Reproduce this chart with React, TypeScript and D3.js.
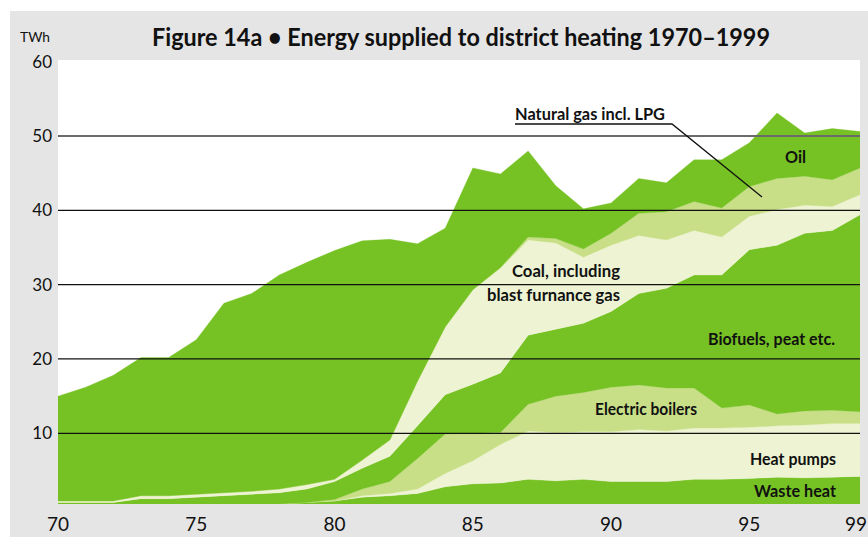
import React from "react";
import * as d3 from "d3";

const years = [1970, 1971, 1972, 1973, 1974, 1975, 1976, 1977, 1978, 1979, 1980, 1981, 1982, 1983, 1984, 1985, 1986, 1987, 1988, 1989, 1990, 1991, 1992, 1993, 1994, 1995, 1996, 1997, 1998, 1999];

const wasteHeat = [0.3, 0.3, 0.3, 0.3, 0.4, 0.4, 0.4, 0.5, 0.5, 0.7, 0.9, 1.4, 1.6, 1.9, 2.8, 3.2, 3.3, 3.8, 3.6, 3.8, 3.5, 3.5, 3.5, 3.8, 3.8, 3.9, 4.1, 4.0, 4.1, 4.2];
const heatPumps = [0, 0, 0, 0, 0, 0, 0, 0, 0, 0, 0, 0.2, 0.3, 0.6, 1.8, 3.1, 5.2, 6.5, 6.5, 6.4, 6.7, 7.0, 6.8, 6.9, 6.9, 6.9, 6.9, 7.1, 7.2, 7.1];
const electricBoilers = [0, 0, 0, 0, 0, 0, 0, 0, 0, 0, 0.2, 0.9, 1.6, 4.1, 5.3, 3.7, 1.6, 3.6, 4.9, 5.3, 6.0, 6.0, 5.8, 5.4, 2.7, 3.0, 1.6, 1.9, 1.8, 1.6];
const biofuels = [0.4, 0.4, 0.4, 0.9, 0.8, 1.0, 1.2, 1.3, 1.5, 1.8, 2.4, 2.8, 3.4, 4.4, 5.3, 6.6, 8.0, 9.3, 9.0, 9.3, 10.2, 12.3, 13.4, 15.2, 17.9, 20.9, 22.7, 23.9, 24.2, 26.5];
const coal = [0.2, 0.2, 0.2, 0.4, 0.4, 0.4, 0.4, 0.4, 0.5, 0.6, 0.3, 1.1, 2.2, 6.0, 9.1, 12.7, 14.1, 12.8, 11.6, 8.9, 8.9, 7.8, 6.5, 6.0, 5.1, 4.5, 4.8, 3.8, 3.2, 2.7];
const naturalGas = [0, 0, 0, 0, 0, 0, 0, 0, 0, 0, 0, 0, 0, 0, 0, 0, 0.1, 0.4, 0.6, 1.1, 1.6, 3.0, 3.8, 3.9, 3.9, 4.0, 4.2, 3.9, 3.6, 3.6];
const oil = [14.1, 15.3, 16.9, 18.6, 18.6, 20.8, 25.5, 26.6, 28.8, 29.9, 30.8, 29.5, 27.0, 18.5, 13.3, 16.4, 12.6, 11.6, 7.1, 5.4, 4.1, 4.7, 3.9, 5.6, 6.5, 5.9, 8.8, 5.8, 6.9, 4.9];

const seriesKeys = ["wasteHeat", "heatPumps", "electricBoilers", "biofuels", "coal", "naturalGas", "oil"];
const seriesData: Record<string, number[]> = { wasteHeat, heatPumps, electricBoilers, biofuels, coal, naturalGas, oil };

const yTicks = [10, 20, 30, 40, 50, 60];
const xTicks = [1970, 1975, 1980, 1985, 1990, 1995, 1999];
const xTickLabels = ["70", "75", "80", "85", "90", "95", "99"];

const GREEN = "#76c224";
const CREAM = "#eef4d3";
const LIGHT = "#c8df88";
const colors: Record<string, string> = {
  wasteHeat: GREEN,
  heatPumps: CREAM,
  electricBoilers: LIGHT,
  biofuels: GREEN,
  coal: CREAM,
  naturalGas: LIGHT,
  oil: GREEN,
};

export default function App() {
  const W = 868, H = 537;
  const left = 58, right = 860, top = 60, bottom = 504;
  const x = d3.scaleLinear().domain([1970, 1999]).range([left, right]);
  const y = d3.scaleLinear().domain([0, 60]).range([507.6, 61.7]);

  const table = years.map((yr, i) => {
    const row: any = { year: yr };
    seriesKeys.forEach((k) => (row[k] = seriesData[k][i]));
    return row;
  });
  const stacked = d3.stack<any>().keys(seriesKeys)(table);
  const area = d3
    .area<any>()
    .x((d) => x(d.data.year))
    .y0((d) => y(d[0]))
    .y1((d) => y(d[1]));

  const font = "Lato, 'DejaVu Sans', sans-serif";
  const labels = [
    { t: "Oil", x0: 785, x1: 806, b: 163 },
    { t: "Coal, including", x0: 512, x1: 620, b: 277 },
    { t: "blast furnance gas", x0: 487, x1: 620, b: 301 },
    { t: "Biofuels, peat etc.", x0: 708, x1: 835, b: 345 },
    { t: "Electric boilers", x0: 595, x1: 697, b: 415 },
    { t: "Heat pumps", x0: 750, x1: 836, b: 465 },
    { t: "Waste heat", x0: 754, x1: 836, b: 497 },
  ];

  return (
    <svg width={W} height={H} style={{ position: "absolute", left: 0, top: 0, display: "block" }}>
      <rect x={0} y={0} width={W} height={H} fill="#ffffff" />
      <rect x={10} y={11} width={W - 10} height={H - 11} fill="#e5e5e5" />
      <rect x={left} y={top} width={right - left} height={bottom - top} fill="#ffffff" />
      <defs>
        <clipPath id="plotclip">
          <rect x={left} y={top} width={right - left} height={bottom - top} />
        </clipPath>
      </defs>
      <g clipPath="url(#plotclip)">
        {stacked.map((s) => (
          <path key={s.key} d={area(s) || ""} fill={colors[s.key]} stroke={colors[s.key]} strokeWidth={0.3} />
        ))}
      </g>
      {yTicks.filter((t) => t < 60).map((t) => (
        <line
          key={t}
          x1={left}
          x2={right}
          y1={y(t)}
          y2={y(t)}
          stroke={t === 50 ? "#6a6a6a" : "#111"}
          strokeWidth={t === 50 ? 2 : 1.2}
        />
      ))}
      {yTicks.map((t) => (
        <text key={t} x={52} y={y(t) + 6} textAnchor="end" fontFamily={font} fontSize={17} fill="#111">
          {t}
        </text>
      ))}
      <text x={20} y={42} fontFamily={font} fontSize={14} fill="#111" textLength={30} lengthAdjust="spacingAndGlyphs">
        TWh
      </text>
      {xTicks.map((t, i) => (
        <text key={t} x={Math.min(x(t), 856)} y={531} textAnchor="middle" fontFamily={font} fontSize={19} fill="#111">
          {xTickLabels[i]}
        </text>
      ))}
      <text
        x={152}
        y={46}
        fontFamily={font}
        fontWeight="bold"
        fontSize={24}
        fill="#111"
        textLength={618}
        lengthAdjust="spacingAndGlyphs"
      >
        Figure 14a • Energy supplied to district heating 1970–1999
      </text>
      <text x={515} y={120} fontFamily={font} fontWeight="bold" fontSize={17} fill="#111" textLength={150} lengthAdjust="spacingAndGlyphs">
        Natural gas incl. LPG
      </text>
      <polyline points="515,124 672,124 762,197" fill="none" stroke="#111" strokeWidth={1.3} />
      {labels.map((l) => (
        <text
          key={l.t}
          x={l.x0}
          y={l.b}
          fontFamily={font}
          fontWeight="bold"
          fontSize={17}
          fill="#111"
          textLength={l.x1 - l.x0}
          lengthAdjust="spacingAndGlyphs"
        >
          {l.t}
        </text>
      ))}
    </svg>
  );
}
